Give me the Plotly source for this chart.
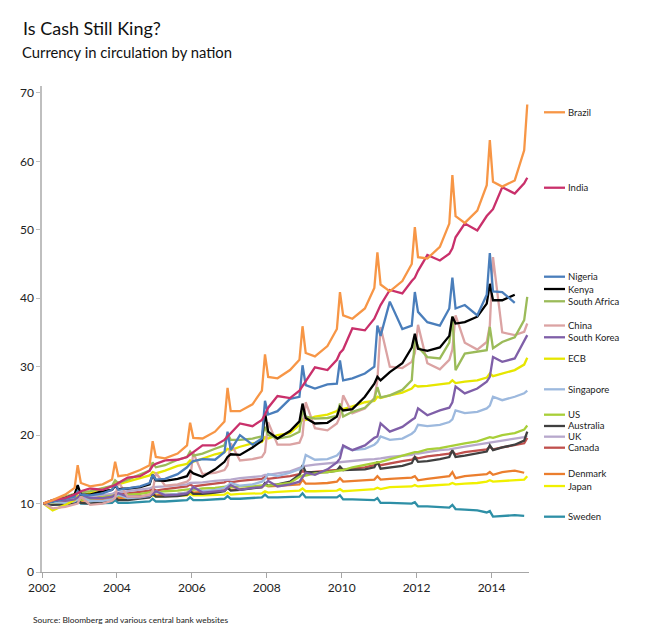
import plotly.graph_objects as go

# sampling grid: five points per year (month numbers), 2002-2014
years = list(range(2002, 2015))
months = [1, 4, 8, 11, 12]
dates = [f"{y}-{m:02d}-15" for y in years for m in months]

brazil = [10.0, 10.5, 11.3, 12.3, 15.6,
          13.0, 12.5, 12.8, 13.5, 16.1,
          14.0, 14.2, 14.9, 15.6, 19.1,
          16.8, 16.6, 17.3, 18.5, 21.8,
          19.6, 19.5, 20.5, 22.0, 26.9,
          23.5, 23.5, 24.5, 26.5, 31.8,
          28.5, 28.3, 29.5, 31.0, 35.9,
          32.0, 31.5, 33.0, 35.5, 40.9,
          37.5, 37.0, 38.5, 41.5, 46.7,
          42.0, 41.0, 42.5, 45.0, 50.4,
          46.0, 45.8, 47.5, 50.9, 58.0,
          52.0, 51.0, 52.8, 56.5, 63.1,
          57.0, 56.3, 57.2, 61.6, 68.3]
india = [10.0, 10.5, 10.8, 11.3, 11.5,
         11.8, 12.2, 12.0, 12.5, 12.7,
         13.0, 13.8, 14.0, 14.8, 15.5,
         15.8, 16.3, 16.4, 16.8, 17.2,
         17.5, 18.5, 18.5, 19.3, 19.8,
         20.3, 21.7, 21.3, 22.2, 23.0,
         24.0, 25.7, 25.4, 26.5, 27.2,
         28.0, 29.9, 29.5, 31.0, 32.0,
         32.5, 35.6, 35.3, 37.0, 38.0,
         39.0, 41.2, 40.7, 42.5, 43.0,
         44.0, 46.3, 45.5, 46.5, 47.3,
         48.9, 50.9, 49.9, 52.0, 52.5,
         53.0, 56.2, 55.3, 56.8, 57.6]
nigeria = [10.0, 10.3, 10.6, 11.0, 11.8,
           11.3, 11.2, 11.5, 12.0, 12.8,
           12.0, 12.2, 12.5, 13.0, 14.2,
           13.5, 13.6, 14.3, 15.3, 15.8,
           16.2, 16.5, 16.4, 17.5, 20.5,
           17.8, 20.0, 18.6, 19.5, 25.0,
           23.0, 23.5, 25.3, 25.6, 30.2,
           27.3, 26.8, 27.4, 27.5, 30.9,
           28.0, 28.3, 29.0, 30.0, 36.0,
           34.5, 39.5, 35.5, 36.0, 40.9,
           38.0, 36.5, 36.0, 38.5, 43.0,
           38.5, 39.0, 37.5, 40.5, 46.6,
           41.0, 40.9, 39.3, None, None]
kenya = [10.0, 10.3, 10.8, 11.3, 12.7,
         11.3, 11.3, 11.8, 12.0, 12.6,
         12.1, 12.2, 12.4, 12.8, 14.2,
         13.4, 13.3, 13.6, 14.0, 14.8,
         14.4, 13.9, 15.0, 16.1, 16.8,
         17.2, 17.1, 18.2, 19.2, 23.3,
         20.5, 19.5, 20.6, 22.0, 24.6,
         22.5, 21.7, 21.8, 22.7, 24.1,
         23.6, 23.8, 25.6, 27.5, 28.5,
         28.0, 29.2, 30.5, 32.8, 34.8,
         32.6, 32.3, 32.8, 34.5, 37.3,
         36.3, 36.5, 37.3, 39.2, 42.1,
         39.7, 39.7, 40.5, None, None]
south_africa = [10.0, 10.5, 11.0, 11.4, 12.0,
                11.6, 11.8, 12.2, 12.6, 13.4,
                13.0, 13.5, 14.2, 14.8, 16.0,
                15.3, 15.6, 16.4, 16.8, 17.6,
                17.0, 17.3, 18.0, 18.5, 20.2,
                19.3, 19.3, 19.5, 19.8, 21.2,
                20.0, 19.5, 19.8, 20.5, 23.6,
                22.7, 22.4, 22.5, 22.8, 24.6,
                22.7, 23.4, 24.0, 25.3, 27.0,
                25.5, 25.8, 26.6, 28.0, 34.0,
                32.9, 31.4, 31.2, 33.5, 37.3,
                29.5, 31.9, 32.2, 32.4, 35.8,
                32.7, 33.6, 34.3, 36.8, 40.2]
china = [10.0, 9.3, 9.5, 9.8, 10.0,
         11.0, 9.8, 10.0, 10.4, 10.8,
         13.2, 11.0, 11.0, 11.3, 11.8,
         14.5, 12.6, 12.8, 13.2, 13.6,
         17.4, 14.3, 14.5, 14.9, 15.6,
         18.8, 16.3, 16.5, 16.8, 17.5,
         21.9, 18.6, 18.6, 18.9, 20.0,
         24.8, 21.0, 20.7, 21.7, 22.7,
         25.8, 23.2, 23.9, 25.4, 28.0,
         35.8, 30.0, 29.8, 30.7, 32.0,
         36.1, 30.5, 29.6, 31.0, 32.5,
         37.5, 33.5, 32.5, 33.6, 36.0,
         46.0, 35.0, 34.6, 35.1, 36.3]
south_korea = [10.0, 10.5, 10.4, 10.6, 10.9,
               11.3, 10.8, 10.8, 11.0, 11.3,
               11.5, 11.0, 11.0, 11.2, 11.4,
               11.8, 11.2, 11.3, 11.5, 11.8,
               12.4, 11.6, 11.8, 11.9, 12.3,
               12.7, 12.0, 12.3, 12.4, 12.8,
               13.3, 12.5, 12.8, 13.2, 13.8,
               14.5, 14.2, 15.0, 16.0, 16.6,
               18.5, 17.8, 18.5, 19.6, 19.8,
               21.7, 20.5, 21.2, 22.2, 22.5,
               23.9, 22.9, 23.6, 24.0, 24.8,
               27.1, 26.1, 26.8, 27.8, 28.5,
               31.4, 30.7, 31.2, 33.6, 34.6]
ecb = [10.0, 9.0, 9.8, 10.5, 11.2,
       11.0, 11.6, 12.2, 12.5, 13.0,
       12.8, 13.2, 13.8, 14.1, 14.6,
       14.4, 14.8, 15.5, 15.8, 16.3,
       16.1, 16.6, 17.2, 17.5, 18.0,
       17.8, 18.3, 18.8, 19.0, 19.7,
       19.5, 20.0, 20.3, 21.5, 22.3,
       22.2, 22.7, 23.0, 23.5, 24.0,
       23.8, 24.2, 24.8, 25.0, 25.6,
       25.4, 25.8, 26.2, 26.8, 27.3,
       27.1, 27.2, 27.4, 27.6, 28.0,
       27.6, 27.8, 28.0, 28.4, 29.0,
       28.6, 29.0, 29.5, 30.3, 31.3]
singapore = [10.0, 10.2, 10.1, 10.3, 10.6,
             10.9, 10.4, 10.4, 10.6, 10.9,
             11.3, 10.8, 10.9, 11.1, 11.4,
             11.8, 11.3, 11.4, 11.6, 11.9,
             12.4, 11.8, 12.0, 12.3, 12.6,
             13.0, 12.6, 12.8, 13.2, 13.6,
             14.3, 14.0, 14.5, 15.0, 15.3,
             17.1, 16.4, 16.5, 17.0, 17.5,
             18.3, 17.8, 18.0, 18.6, 19.0,
             19.8, 19.3, 19.5, 20.2, 20.6,
             21.5, 21.3, 21.5, 21.9, 22.3,
             23.6, 23.2, 23.4, 23.9, 24.3,
             25.6, 25.1, 25.6, 26.1, 26.5]
us = [10.0, 10.1, 10.3, 10.5, 10.6,
      10.5, 10.7, 10.9, 11.1, 11.2,
      11.1, 11.3, 11.4, 11.6, 11.7,
      11.6, 11.8, 11.9, 12.0, 12.1,
      12.0, 12.2, 12.3, 12.4, 12.5,
      12.4, 12.5, 12.5, 12.6, 12.7,
      12.6, 12.8, 13.0, 13.9, 14.1,
      14.1, 14.4, 14.6, 14.8, 14.9,
      14.9, 15.3, 15.6, 15.9, 16.0,
      16.1, 16.5, 17.0, 17.4, 17.5,
      17.5, 17.9, 18.1, 18.4, 18.5,
      18.5, 18.8, 19.1, 19.5, 19.7,
      19.6, 20.0, 20.3, 20.8, 21.4]
australia = [10.0, 9.8, 9.9, 10.1, 10.6,
             10.1, 10.0, 10.2, 10.4, 10.9,
             10.5, 10.5, 10.7, 10.9, 11.4,
             11.0, 11.0, 11.1, 11.3, 11.8,
             11.4, 11.4, 11.6, 11.8, 12.3,
             11.9, 12.0, 12.2, 12.4, 13.0,
             12.6, 12.8, 13.2, 14.2, 15.6,
             14.6, 14.6, 14.6, 14.8, 15.4,
             14.9, 14.9, 15.0, 15.3, 16.1,
             15.1, 15.3, 15.5, 15.9, 16.8,
             16.1, 16.2, 16.5, 16.8, 17.8,
             16.8, 17.0, 17.3, 17.6, 18.5,
             17.8, 18.2, 18.6, 19.2, 20.5]
uk = [10.0, 10.2, 10.4, 10.6, 10.8,
      10.8, 11.0, 11.2, 11.4, 11.6,
      11.6, 11.8, 12.0, 12.2, 12.4,
      12.4, 12.5, 12.7, 12.8, 13.0,
      13.0, 13.1, 13.3, 13.4, 13.5,
      13.5, 13.7, 13.9, 14.0, 14.2,
      14.2, 14.4, 14.7, 15.2, 15.4,
      15.5, 15.7, 15.9, 16.0, 16.1,
      16.1, 16.2, 16.4, 16.5, 16.6,
      16.6, 16.8, 17.0, 17.1, 17.3,
      17.3, 17.5, 17.8, 17.9, 18.0,
      18.0, 18.3, 18.6, 18.8, 18.9,
      18.9, 19.2, 19.5, 19.7, 19.9]
canada = [10.0, 10.2, 10.4, 10.6, 10.9,
          10.7, 10.9, 11.1, 11.3, 11.6,
          11.3, 11.5, 11.7, 11.9, 12.2,
          11.9, 12.1, 12.3, 12.5, 12.8,
          12.5, 12.7, 12.9, 13.1, 13.4,
          13.1, 13.3, 13.5, 13.6, 13.9,
          13.6, 13.8, 14.0, 14.3, 14.8,
          14.5, 14.6, 14.7, 14.9, 15.2,
          14.9, 15.1, 15.3, 15.6, 15.9,
          15.6, 15.9, 16.2, 16.4, 16.8,
          16.6, 16.9, 17.1, 17.3, 17.6,
          17.2, 17.5, 17.7, 17.9, 18.3,
          17.9, 18.2, 18.5, 18.8, 19.6]
denmark = [10.0, 10.1, 10.2, 10.4, 10.8,
           10.4, 10.5, 10.6, 10.8, 11.2,
           10.8, 10.9, 11.0, 11.2, 11.6,
           11.2, 11.3, 11.4, 11.6, 12.0,
           11.6, 11.7, 11.8, 12.0, 12.4,
           12.0, 12.1, 12.3, 12.4, 12.8,
           12.5, 12.6, 12.7, 12.8, 13.5,
           12.9, 12.9, 13.0, 13.2, 13.7,
           13.2, 13.3, 13.4, 13.5, 14.0,
           13.5, 13.6, 13.7, 13.8, 14.0,
           13.4, 13.6, 13.8, 14.0, 14.6,
           13.7, 14.0, 14.2, 14.3, 14.6,
           14.2, 14.6, 14.8, 14.5, None]
japan = [10.0, 10.0, 10.2, 10.4, 10.7,
         10.5, 10.7, 10.7, 10.8, 11.0,
         10.8, 10.9, 10.9, 11.0, 11.2,
         11.0, 11.1, 11.1, 11.2, 11.4,
         11.2, 11.2, 11.2, 11.3, 11.6,
         11.3, 11.4, 11.4, 11.5, 11.8,
         11.6, 11.7, 11.8, 11.9, 12.2,
         11.8, 11.8, 11.8, 11.9, 12.1,
         11.8, 11.9, 12.0, 12.1, 12.3,
         12.1, 12.4, 12.4, 12.5, 12.7,
         12.5, 12.6, 12.7, 12.8, 13.0,
         12.8, 12.9, 13.0, 13.2, 13.4,
         13.2, 13.3, 13.4, 13.5, 14.0]
sweden = [10.0, 9.9, 9.9, 10.0, 10.4,
          10.0, 10.0, 10.0, 10.1, 10.5,
          10.1, 10.1, 10.2, 10.3, 10.7,
          10.3, 10.3, 10.4, 10.5, 10.9,
          10.5, 10.5, 10.6, 10.7, 11.1,
          10.7, 10.7, 10.8, 10.9, 11.3,
          10.9, 10.9, 10.9, 11.0, 11.5,
          10.9, 10.9, 10.9, 10.9, 11.2,
          10.6, 10.6, 10.6, 10.5, 10.8,
          10.1, 10.1, 10.1, 10.0, 10.2,
          9.6, 9.6, 9.5, 9.4, 9.8,
          9.2, 9.1, 9.0, 8.7, 8.9,
          8.1, 8.2, 8.3, 8.2, None]

names = ["Brazil", "India", "Nigeria", "Kenya", "South Africa", "China",
         "South Korea", "ECB", "Singapore", "US", "Australia", "UK",
         "Canada", "Denmark", "Japan", "Sweden"]
series = [brazil, india, nigeria, kenya, south_africa, china, south_korea,
          ecb, singapore, us, australia, uk, canada, denmark, japan, sweden]
colors = ["#F79646", "#C9306B", "#4A7EBB", "#000000", "#9BBB59", "#DBA3A3",
          "#7F5FA8", "#E6E600", "#9DB9DE", "#A8CF38", "#404040", "#B7A8CC",
          "#C0504D", "#EB7E2E", "#F0F000", "#2E8FA6"]
# vertical positions (axis units) of the right-hand labels
label_y = [67.16, 56.14, 43.14, 41.34, 39.55, 36.01, 34.29, 31.16, 26.69,
           22.98, 21.33, 19.77, 18.16, 14.32, 12.56, 8.08]

FONT = "Lato, 'Open Sans', sans-serif"

fig = go.Figure()
for name, vals, col in reversed(list(zip(names, series, colors))):
    fig.add_trace(go.Scatter(x=dates, y=vals, mode="lines", name=name,
                             line=dict(color=col, width=2.3),
                             connectgaps=False, showlegend=False))

shapes = []
annotations = []
for name, ly, col in zip(names, label_y, colors):
    shapes.append(dict(type="line", xref="paper", yref="y",
                       x0=1.0308, x1=1.0739, y0=ly, y1=ly,
                       line=dict(color=col, width=2.3)))
    annotations.append(dict(text=name, xref="paper", yref="y",
                            x=1.0759, y=ly, xanchor="left", yanchor="middle",
                            showarrow=False,
                            font=dict(family=FONT, size=9.5, color="#222222")))

annotations += [
    dict(text="Is Cash Still King?", xref="paper", yref="paper",
         x=-0.043, y=1.119, xanchor="left", yanchor="middle", showarrow=False,
         font=dict(family=FONT, size=18, color="#111111")),
    dict(text="Currency in circulation by nation", xref="paper", yref="paper",
         x=-0.046, y=1.070, xanchor="left", yanchor="middle", showarrow=False,
         font=dict(family=FONT, size=14.8, color="#111111")),
    dict(text="Source: Bloomberg and various central bank websites",
         xref="paper", yref="paper", x=-0.022, y=-0.099,
         xanchor="left", yanchor="middle", showarrow=False,
         font=dict(family=FONT, size=8.4, color="#222222")),
]

# the page adds an 8px body margin, so the figure is 8px smaller
fig.update_layout(
    width=642, height=631,
    margin=dict(l=34, r=121, t=78, b=67, autoexpand=False),
    paper_bgcolor="white", plot_bgcolor="white",
    font=dict(family=FONT, size=12, color="#222222"),
    shapes=shapes, annotations=annotations,
    xaxis=dict(type="date", range=["2002-01-01", "2015-01-01"],
               tickmode="linear", tick0="2002-01-01", dtick="M24",
               tickformat="%Y", showgrid=False, zeroline=False,
               showline=True, linecolor="#A6A6A6", linewidth=1,
               ticks="outside", ticklen=5, tickcolor="#A6A6A6",
               automargin=False,
               tickfont=dict(family=FONT, size=12, color="#222222")),
    yaxis=dict(range=[0, 71], tickmode="array",
               tickvals=[0, 10, 20, 30, 40, 50, 60, 70],
               showgrid=False, zeroline=False,
               showline=True, linecolor="#BFBFBF", linewidth=1.5,
               ticks="outside", ticklen=4, tickcolor="#BFBFBF",
               automargin=False,
               tickfont=dict(family=FONT, size=12, color="#222222")),
)

fig.write_html("out.html")
